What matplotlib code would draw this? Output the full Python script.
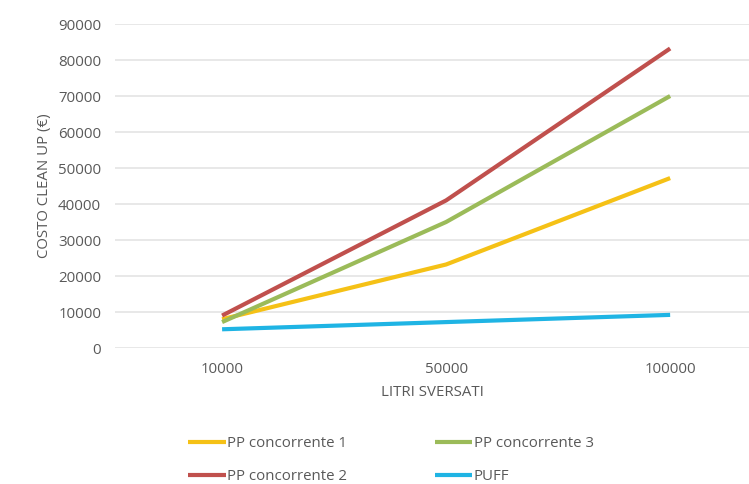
import matplotlib
matplotlib.use("Agg")
import matplotlib.pyplot as plt

categories = ["10000", "50000", "100000"]
pp1 = [8000, 23200, 47200]
pp2 = [9000, 41000, 83200]
pp3 = [7200, 35000, 70000]
puff = [5200, 7200, 9200]
yticks = [0, 10000, 20000, 30000, 40000, 50000, 60000, 70000, 80000, 90000]

plt.rcParams['font.family'] = ['Open Sans', 'DejaVu Sans']
txt = '#595959'
fs = 10.8

fig = plt.figure(figsize=(7.49, 4.84), dpi=100)
ax = fig.add_axes([115/749, 1-348/484, 634/749, 324/484])

x = list(range(len(categories)))
ax.plot(x, pp1, color='#F5C116', lw=3, label='PP concorrente 1', solid_capstyle='butt')
ax.plot(x, pp2, color='#C0504D', lw=3, label='PP concorrente 2', solid_capstyle='butt')
ax.plot(x, pp3, color='#9BBB59', lw=3, label='PP concorrente 3', solid_capstyle='butt')
ax.plot(x, puff, color='#1FB4E4', lw=3, label='PUFF', solid_capstyle='butt')

ax.set_xlim(-0.478, 2.352)
ax.set_ylim(0, 90000)
ax.set_yticks(yticks)
ax.set_yticklabels([str(v) for v in yticks])
ax.set_xticks(x)
ax.set_xticklabels(categories)
ax.grid(axis='y', color='#E6E6E6', lw=1.3)
ax.set_axisbelow(True)
for s in ax.spines.values():
    s.set_visible(False)
ax.tick_params(length=0, colors=txt, labelsize=fs)
ax.tick_params(axis='y', pad=10)
ax.tick_params(axis='x', pad=10)
ax.set_ylabel('COSTO CLEAN UP (€)', color=txt, fontsize=fs, labelpad=4)
ax.set_xlabel('LITRI SVERSATI', color=txt, fontsize=fs, labelpad=6)

leg = fig.legend(loc='upper left', bbox_to_anchor=(188/749, 1-436/484), ncol=2,
                 frameon=False, fontsize=fs, handlelength=2.5, handletextpad=0.1,
                 columnspacing=5.85, labelspacing=1.2, borderpad=0, borderaxespad=0)
for t in leg.get_texts():
    t.set_color(txt)

fig.savefig('out.png', dpi=100)
